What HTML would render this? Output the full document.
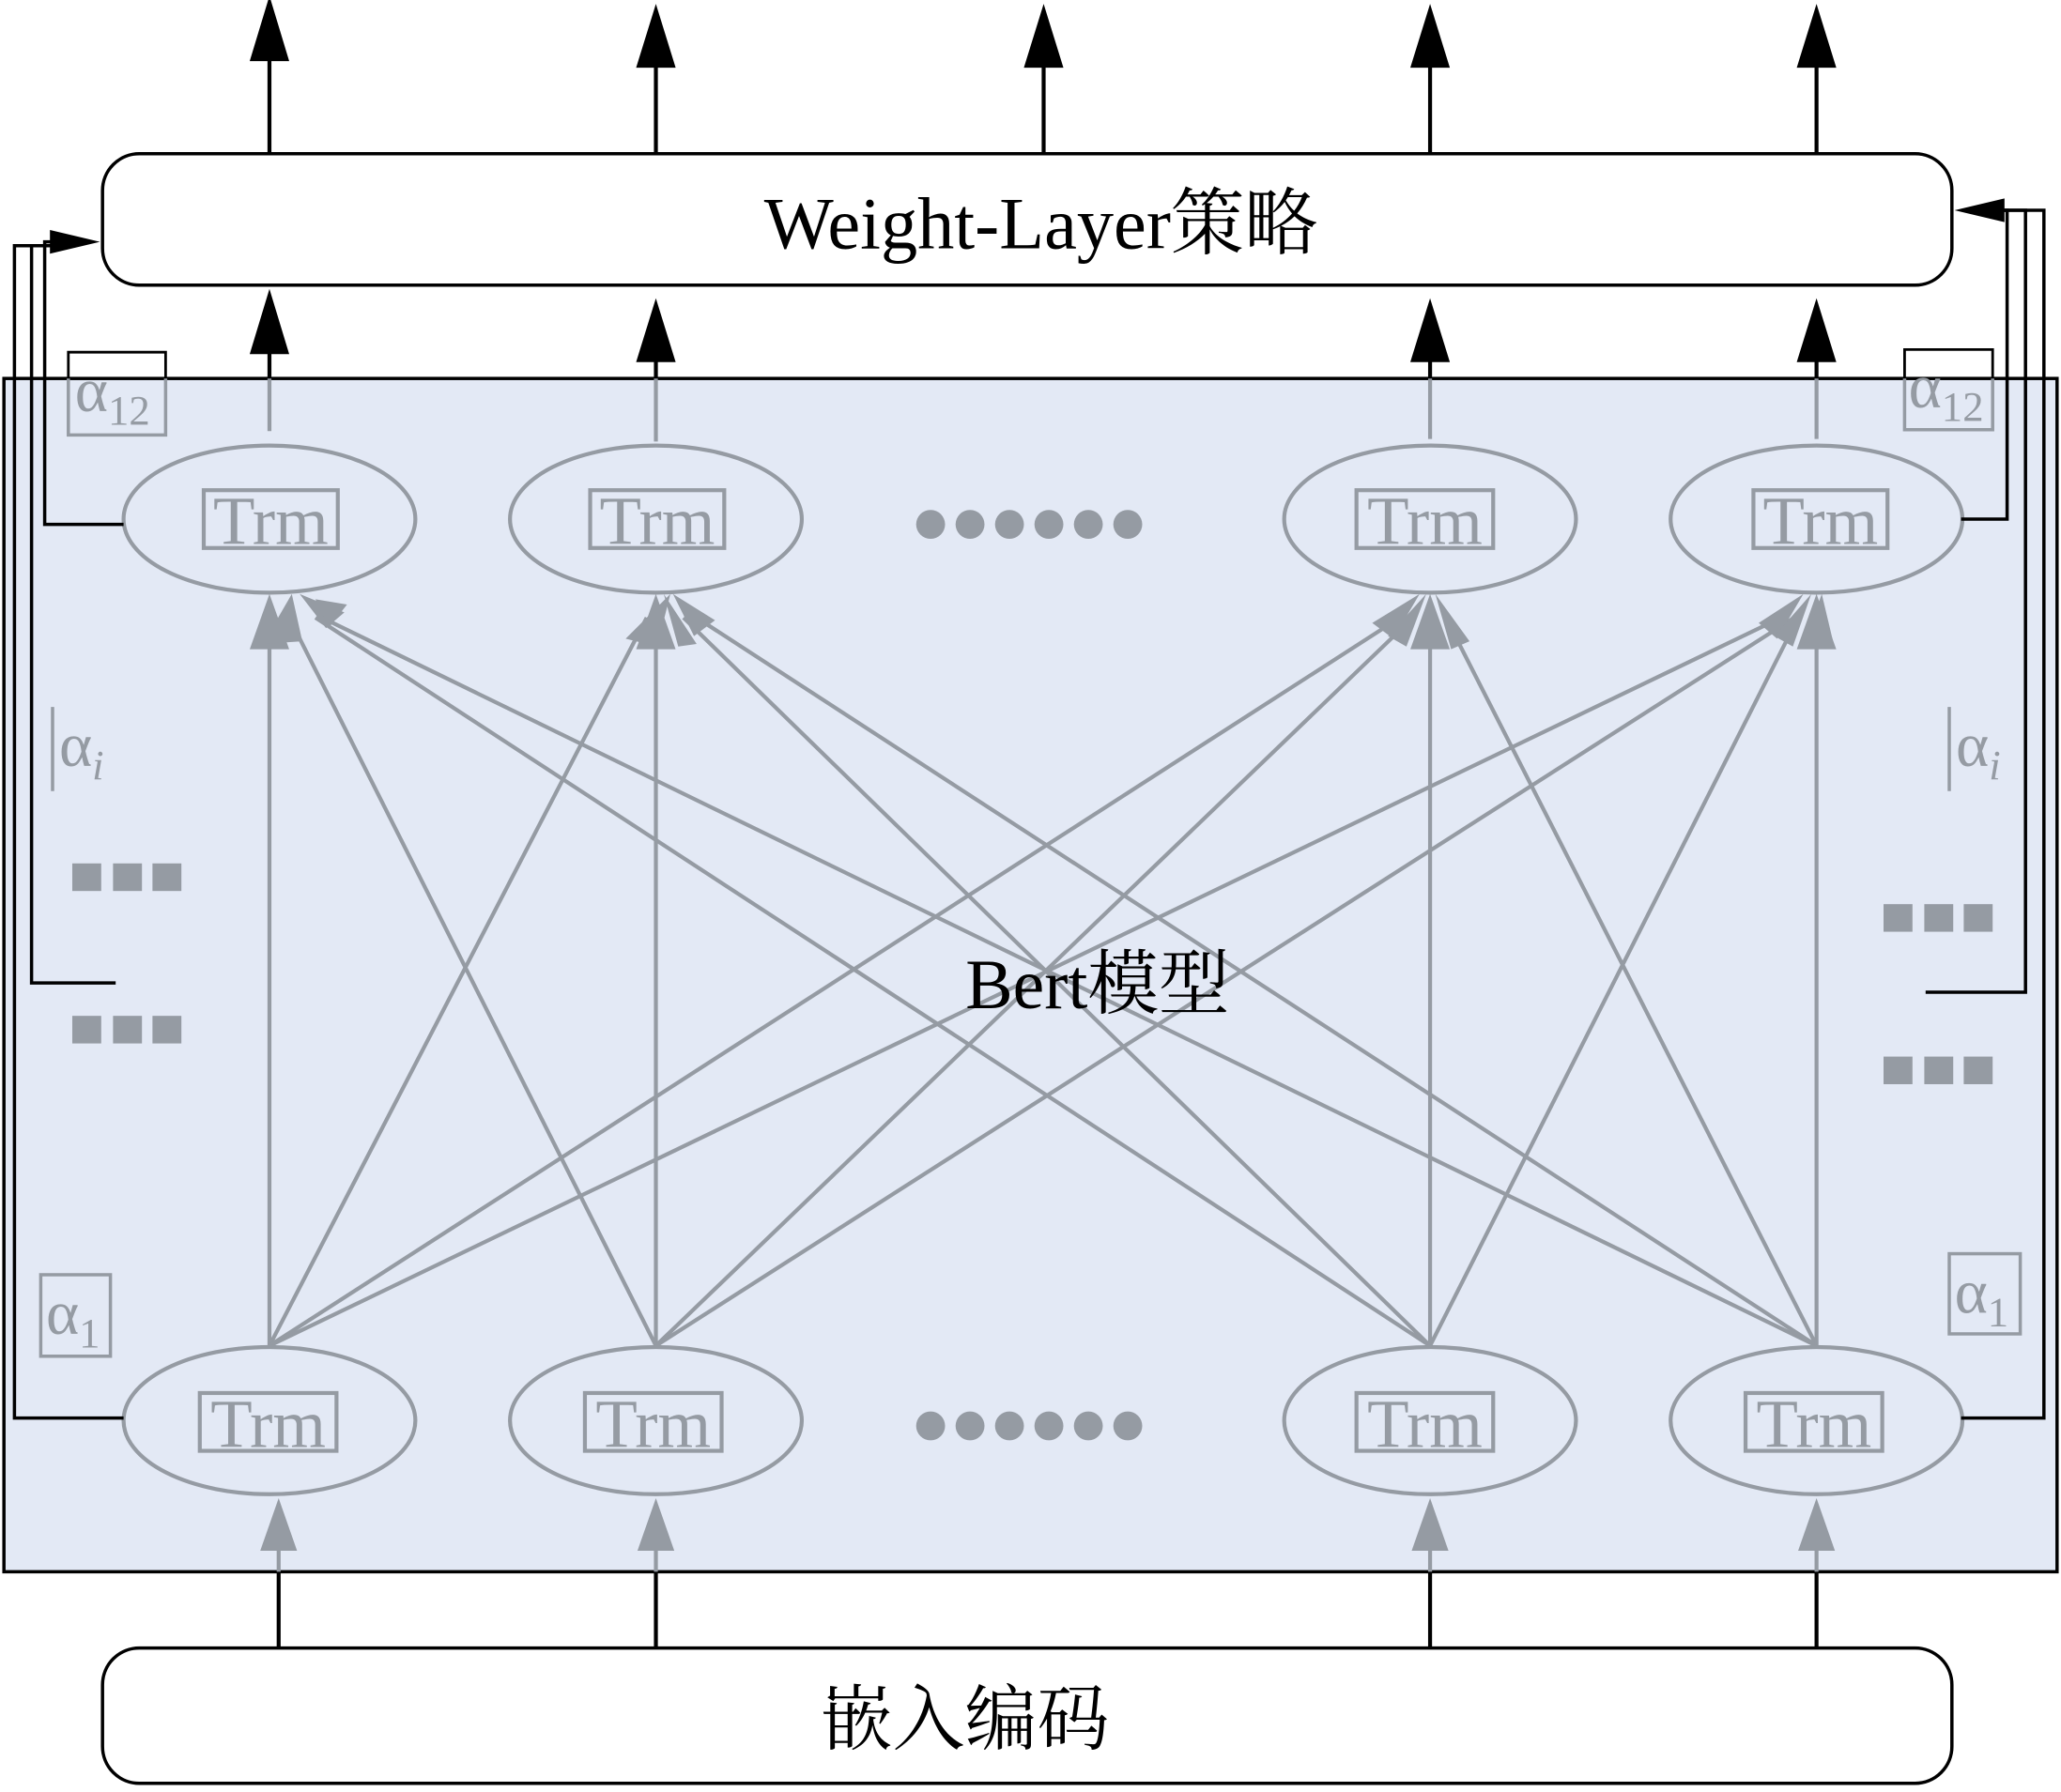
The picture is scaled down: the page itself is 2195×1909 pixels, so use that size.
<!DOCTYPE html>
<html><head><meta charset="utf-8"><style>
html,body{margin:0;padding:0;background:#fff;}
svg{display:block;}
</style></head><body>
<svg width="2195" height="1909" viewBox="0 0 1568 1363.6" preserveAspectRatio="none" xmlns="http://www.w3.org/2000/svg">
<rect x="3" y="288" width="1562" height="908" fill="#e3e9f5" stroke="#000" stroke-width="2.5"/>
<g stroke="#000" stroke-width="3" fill="#000">
<line x1="205" y1="118" x2="205" y2="40"/><polygon points="205,2 192,45 218,45"/>
<line x1="499" y1="118" x2="499" y2="40"/><polygon points="499,8 486,50 512,50"/>
<line x1="794" y1="118" x2="794" y2="40"/><polygon points="794,8 781,50 807,50"/>
<line x1="1088" y1="118" x2="1088" y2="40"/><polygon points="1088,8 1075,50 1101,50"/>
<line x1="1382" y1="118" x2="1382" y2="40"/><polygon points="1382,8 1369,50 1395,50"/>
<line x1="205" y1="288" x2="205" y2="260"/><polygon points="205,225 192,268 218,268"/>
<line x1="499" y1="288" x2="499" y2="265"/><polygon points="499,232 486,274 512,274"/>
<line x1="1088" y1="288" x2="1088" y2="265"/><polygon points="1088,232 1075,274 1101,274"/>
<line x1="1382" y1="288" x2="1382" y2="265"/><polygon points="1382,232 1369,274 1395,274"/>
<line x1="212" y1="1254" x2="212" y2="1196"/>
<line x1="499" y1="1254" x2="499" y2="1196"/>
<line x1="1088" y1="1254" x2="1088" y2="1196"/>
<line x1="1382" y1="1254" x2="1382" y2="1196"/>
</g>
<rect x="78" y="117" width="1407" height="100" rx="28" fill="#fff" stroke="#000" stroke-width="2.5"/>
<text x="792" y="189" font-family="Liberation Serif, Noto Serif CJK SC, serif" font-size="56" text-anchor="middle">Weight-Layer策略</text>
<rect x="78" y="1254" width="1407" height="103" rx="28" fill="#fff" stroke="#000" stroke-width="2.5"/>
<text x="734" y="1327" font-family="Liberation Serif, Noto Serif CJK SC, serif" font-size="55" text-anchor="middle">嵌入编码</text>

<g stroke="#959ba3" stroke-width="3">
<line x1="205" y1="288" x2="205" y2="328"/>
<line x1="499" y1="288" x2="499" y2="336"/>
<line x1="1088" y1="288" x2="1088" y2="334"/>
<line x1="1382" y1="288" x2="1382" y2="334"/>
<line x1="212" y1="1196" x2="212" y2="1175"/>
<line x1="499" y1="1196" x2="499" y2="1175"/>
<line x1="1088" y1="1196" x2="1088" y2="1175"/>
<line x1="1382" y1="1196" x2="1382" y2="1175"/>
<line x1="205" y1="1024" x2="205" y2="470"/>
<line x1="205" y1="1024" x2="492" y2="470"/>
<line x1="205" y1="1024" x2="1065" y2="470"/>
<line x1="205" y1="1024" x2="1355" y2="470"/>
<line x1="499" y1="1024" x2="220" y2="470"/>
<line x1="499" y1="1024" x2="499" y2="470"/>
<line x1="499" y1="1024" x2="1075" y2="470"/>
<line x1="499" y1="1024" x2="1365" y2="470"/>
<line x1="1088" y1="1024" x2="240" y2="470"/>
<line x1="1088" y1="1024" x2="520" y2="470"/>
<line x1="1088" y1="1024" x2="1088" y2="470"/>
<line x1="1088" y1="1024" x2="1368" y2="470"/>
<line x1="1382" y1="1024" x2="245" y2="470"/>
<line x1="1382" y1="1024" x2="530" y2="470"/>
<line x1="1382" y1="1024" x2="1100" y2="470"/>
<line x1="1382" y1="1024" x2="1382" y2="470"/>
</g>
<g fill="#959ba3">
<polygon points="212,1140 198,1180 226,1180"/>
<polygon points="499,1140 485,1180 513,1180"/>
<polygon points="1088,1140 1074,1180 1102,1180"/>
<polygon points="1382,1140 1368,1180 1396,1180"/>
<polygon points="205,452 190,494 220,494"/>
<polygon points="222,452 200,490 230,488"/>
<polygon points="228,452 262,466 248,478"/>
<polygon points="240,456 264,460 250,478"/>
<polygon points="499,452 484,494 514,494"/>
<polygon points="510,452 476,486 500,492"/>
<polygon points="505,452 530,490 516,492"/>
<polygon points="512,452 544,472 528,484"/>
<polygon points="1088,452 1073,494 1103,494"/>
<polygon points="1080,452 1044,474 1060,486"/>
<polygon points="1085,452 1056,484 1070,492"/>
<polygon points="1092,452 1118,488 1104,494"/>
<polygon points="1382,452 1367,494 1397,494"/>
<polygon points="1372,452 1338,474 1352,486"/>
<polygon points="1378,452 1350,484 1364,492"/>
<polygon points="1386,452 1396,494 1372,490"/>
</g>

<g fill="#e3e9f5" stroke="#959ba3" stroke-width="3">
<ellipse cx="205" cy="395" rx="111" ry="56"/>
<ellipse cx="499" cy="395" rx="111" ry="56"/>
<ellipse cx="1088" cy="395" rx="111" ry="56"/>
<ellipse cx="1382" cy="395" rx="111" ry="56"/>
<ellipse cx="205" cy="1081" rx="111" ry="56"/>
<ellipse cx="499" cy="1081" rx="111" ry="56"/>
<ellipse cx="1088" cy="1081" rx="111" ry="56"/>
<ellipse cx="1382" cy="1081" rx="111" ry="56"/>
</g>
<g fill="none" stroke="#959ba3" stroke-width="3">
<rect x="155" y="373" width="102" height="44"/>
<rect x="449" y="373" width="102" height="44"/>
<rect x="1032" y="373" width="104" height="44"/>
<rect x="1334" y="373" width="102" height="44"/>
<rect x="152" y="1060" width="104" height="44"/>
<rect x="445" y="1060" width="104" height="44"/>
<rect x="1032" y="1060" width="104" height="44"/>
<rect x="1328" y="1060" width="104" height="44"/>
</g>
<g font-family="Liberation Serif, serif" font-size="52" fill="#959ba3" text-anchor="middle">
<text x="206" y="414">Trm</text><text x="500" y="414">Trm</text><text x="1084" y="414">Trm</text><text x="1385" y="414">Trm</text>
<text x="204" y="1101">Trm</text><text x="497" y="1101">Trm</text><text x="1084" y="1101">Trm</text><text x="1380" y="1101">Trm</text>
</g>
<g fill="#959ba3">
<circle cx="708" cy="399" r="11"/><circle cx="738" cy="399" r="11"/><circle cx="768" cy="399" r="11"/><circle cx="798" cy="399" r="11"/><circle cx="828" cy="399" r="11"/><circle cx="858" cy="399" r="11"/>
<circle cx="708" cy="1085" r="11"/><circle cx="738" cy="1085" r="11"/><circle cx="768" cy="1085" r="11"/><circle cx="798" cy="1085" r="11"/><circle cx="828" cy="1085" r="11"/><circle cx="858" cy="1085" r="11"/>
<rect x="55" y="657" width="22" height="21"/><rect x="86" y="657" width="22" height="21"/><rect x="116" y="657" width="22" height="21"/>
<rect x="55" y="773" width="22" height="21"/><rect x="86" y="773" width="22" height="21"/><rect x="116" y="773" width="22" height="21"/>
<rect x="1433" y="688" width="22" height="21"/><rect x="1464" y="688" width="22" height="21"/><rect x="1494" y="688" width="22" height="21"/>
<rect x="1433" y="804" width="22" height="21"/><rect x="1464" y="804" width="22" height="21"/><rect x="1494" y="804" width="22" height="21"/>
</g>
<text x="835" y="767" font-family="Liberation Serif, Noto Serif CJK SC, serif" font-size="54" text-anchor="middle">Bert模型</text>

<g fill="none" stroke="#000" stroke-width="2.5">
<polyline points="94,399 34,399 34,184 58,184"/>
<polyline points="88,748 24,748 24,187 40,187"/>
<polyline points="94,1079 11,1079 11,187 40,187"/>
<polyline points="1492,395 1527,395 1527,160 1510,160"/>
<polyline points="1465,755 1541,755 1541,160 1510,160"/>
<polyline points="1492,1079 1555,1079 1555,160 1510,160"/>
</g>
<polygon points="76,184 38,175 38,193" fill="#000"/>
<polygon points="1487,160 1525,151 1525,169" fill="#000"/>
<g fill="none" stroke="#000" stroke-width="2">
<polyline points="52,288 52,268 126,268 126,288"/>
<polyline points="1449,288 1449,266 1516,266 1516,288"/>
</g>
<g fill="none" stroke="#959ba3" stroke-width="2.5">
<polyline points="52,288 52,331 126,331 126,288"/>
<polyline points="1449,288 1449,327 1516,327 1516,288"/>
<rect x="31" y="970" width="53" height="62"/>
<rect x="1483" y="954" width="54" height="61"/>
<line x1="40" y1="538" x2="40" y2="602"/>
<line x1="1483" y1="538" x2="1483" y2="602"/>
</g>
<g font-family="Liberation Serif, serif" fill="#959ba3">
<text x="57" y="313" font-size="48">α<tspan font-size="32" dy="10">12</tspan></text>
<text x="1452" y="310" font-size="48">α<tspan font-size="32" dy="10">12</tspan></text>
<text x="35" y="1015" font-size="48">α<tspan font-size="32" dy="10">1</tspan></text>
<text x="1487" y="999" font-size="48">α<tspan font-size="32" dy="10">1</tspan></text>
<text x="45" y="583" font-size="48">α<tspan font-size="32" font-style="italic" dy="10">i</tspan></text>
<text x="1488" y="583" font-size="48">α<tspan font-size="32" font-style="italic" dy="10">i</tspan></text>
</g>
</svg>
</body></html>
